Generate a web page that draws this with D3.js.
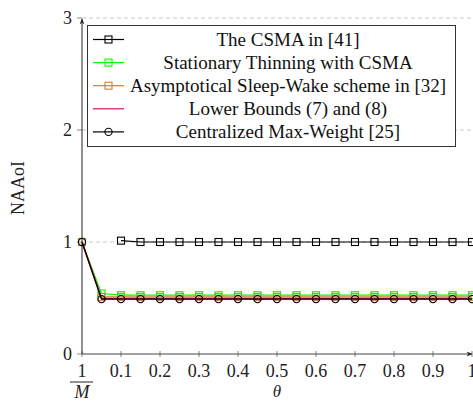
<!DOCTYPE html>
<html><head><meta charset="utf-8">
<script src="https://cdn.jsdelivr.net/npm/d3@7"></script>
<style>body{margin:0;background:#fff}svg{display:block}</style>
</head><body>
<script>
// ---- data ----
const thetaAll = [0, 0.05, 0.1, 0.15, 0.2, 0.25, 0.3, 0.35, 0.4, 0.45, 0.5, 0.55, 0.6, 0.65, 0.7, 0.75, 0.8, 0.85, 0.9, 0.95, 1.0];
const thetaCsma = [0.1, 0.15, 0.2, 0.25, 0.3, 0.35, 0.4, 0.45, 0.5, 0.55, 0.6, 0.65, 0.7, 0.75, 0.8, 0.85, 0.9, 0.95, 1.0];
const csma41 = [1.012, 1.0, 1.0, 1.0, 1.0, 1.0, 1.0, 1.0, 1.0, 1.0, 1.0, 1.0, 1.0, 1.0, 1.0, 1.0, 1.0, 1.0, 1.0];
const thinning = [1.0, 0.54, 0.525, 0.525, 0.525, 0.525, 0.525, 0.525, 0.525, 0.525, 0.525, 0.525, 0.525, 0.525, 0.525, 0.525, 0.525, 0.525, 0.525, 0.525, 0.525];
const sleepWake = [1.0, 0.51, 0.51, 0.51, 0.51, 0.51, 0.51, 0.51, 0.51, 0.51, 0.51, 0.51, 0.51, 0.51, 0.51, 0.51, 0.51, 0.51, 0.51, 0.51, 0.51];
const lowerBound = [1.0, 0.495, 0.495, 0.495, 0.495, 0.495, 0.495, 0.495, 0.495, 0.495, 0.495, 0.495, 0.495, 0.495, 0.495, 0.495, 0.495, 0.495, 0.495, 0.495, 0.495];
const maxWeight = [1.0, 0.49, 0.49, 0.49, 0.49, 0.49, 0.49, 0.49, 0.49, 0.49, 0.49, 0.49, 0.49, 0.49, 0.49, 0.49, 0.49, 0.49, 0.49, 0.49, 0.49];
const xTicks = [0.1, 0.2, 0.3, 0.4, 0.5, 0.6, 0.7, 0.8, 0.9, 1];
const xTickLabels = ["0.1", "0.2", "0.3", "0.4", "0.5", "0.6", "0.7", "0.8", "0.9", "1"];
const yTicks = [0, 1, 2, 3];
const legendLabels = ["The CSMA in [41]", "Stationary Thinning with CSMA", "Asymptotical Sleep-Wake scheme in [32]", "Lower Bounds (7) and (8)", "Centralized Max-Weight [25]"];
const colors = ["#000000", "#00ff00", "#c8803c", "#c8175a", "#000000"];
const markers = ["square", "square", "square", "none", "circle"];

const FONT = "'Liberation Serif', 'DejaVu Serif', Times, serif";
const W = 473, H = 401;
const svg = d3.select("body").append("svg").attr("width", W).attr("height", H)
  .style("font-family", FONT).attr("font-family", FONT);
const x = d3.scaleLinear().domain([0, 1]).range([82, 472]);
const y = d3.scaleLinear().domain([0, 3]).range([354, 18]);

const defs = svg.append("defs");
defs.append("marker").attr("id", "arr").attr("viewBox", "0 0 10 10").attr("refX", 9).attr("refY", 5)
  .attr("markerWidth", 6).attr("markerHeight", 6).attr("orient", "auto")
  .append("path").attr("d", "M0,1 L10,5 L0,9 L3,5 Z").attr("fill", "#222");

// grid
svg.append("g").selectAll("line").data(yTicks.filter(d => d > 0)).join("line")
  .attr("x1", x(0)).attr("x2", x(1)).attr("y1", d => y(d)).attr("y2", d => y(d))
  .attr("stroke", "#c8c8c8").attr("stroke-dasharray", "4,3").attr("stroke-width", 1);
// y ticks
svg.append("g").selectAll("line").data(yTicks).join("line")
  .attr("x1", x(0) - 5).attr("x2", x(0)).attr("y1", d => y(d)).attr("y2", d => y(d))
  .attr("stroke", "#888").attr("stroke-width", 1);
svg.append("g").selectAll("text").data(yTicks).join("text")
  .attr("x", 72).attr("y", d => y(d) + 6).attr("text-anchor", "end")
  .attr("font-size", 18).attr("fill", "#222").text(d => d);
// x ticks
svg.append("g").selectAll("line").data([0].concat(xTicks)).join("line")
  .attr("x1", d => x(d)).attr("x2", d => x(d)).attr("y1", y(0) - 3).attr("y2", y(0) + 3)
  .attr("stroke", "#888").attr("stroke-width", 1);
svg.append("g").selectAll("text").data(xTicks).join("text")
  .attr("x", d => x(d)).attr("y", 377).attr("text-anchor", "middle")
  .attr("font-size", 18).attr("fill", "#222").text((d, i) => xTickLabels[i]);
// 1/M label
svg.append("text").attr("x", x(0)).attr("y", 377).attr("text-anchor", "middle").attr("font-size", 18).attr("fill", "#222").text("1");
svg.append("line").attr("x1", x(0) - 12).attr("x2", x(0) + 11).attr("y1", 382).attr("y2", 382).attr("stroke", "#222").attr("stroke-width", 1);
svg.append("text").attr("x", x(0)).attr("y", 398).attr("text-anchor", "middle").attr("font-size", 18).attr("font-style", "italic").attr("fill", "#222").text("M");
// axis titles
svg.append("text").attr("x", x(0.5)).attr("y", 397).attr("text-anchor", "middle").attr("font-size", 17).attr("font-style", "italic").attr("fill", "#222").text("θ");
svg.append("text").attr("transform", "translate(24,188) rotate(-90)").attr("text-anchor", "middle").attr("font-size", 18).attr("fill", "#222").text("NAAoI");

// axes
svg.append("line").attr("x1", x(0)).attr("x2", x(0)).attr("y1", y(0)).attr("y2", y(3) + 1)
  .attr("stroke", "#222").attr("stroke-width", 1).attr("marker-end", "url(#arr)");
svg.append("line").attr("x1", x(0)).attr("x2", x(1)).attr("y1", y(0)).attr("y2", y(0))
  .attr("stroke", "#444").attr("stroke-width", 1).attr("marker-end", "url(#arr)");

// series
const series = [
  {xs: thetaCsma, ys: csma41},
  {xs: thetaAll, ys: thinning},
  {xs: thetaAll, ys: sleepWake},
  {xs: thetaAll, ys: lowerBound},
  {xs: thetaAll, ys: maxWeight}
];
const line = d3.line().x(d => x(d[0])).y(d => y(d[1]));
function drawMarker(g, type, cx, cy, color) {
  if (type === "square") {
    g.append("rect").attr("x", cx - 3.5).attr("y", cy - 3.5).attr("width", 7).attr("height", 7)
      .attr("fill", "none").attr("stroke", color).attr("stroke-width", 1.1);
  } else if (type === "circle") {
    g.append("circle").attr("cx", cx).attr("cy", cy).attr("r", 3.6)
      .attr("fill", "none").attr("stroke", color).attr("stroke-width", 1.1);
  }
}
series.forEach((s, i) => {
  const pts = s.xs.map((t, j) => [t, s.ys[j]]);
  const g = svg.append("g");
  g.append("path").attr("d", line(pts)).attr("fill", "none").attr("stroke", colors[i])
    .attr("stroke-width", i === 3 ? 1.6 : 1.2);
  pts.forEach(p => drawMarker(g, markers[i], x(p[0]), y(p[1]), colors[i]));
});

// legend
const lg = svg.append("g");
lg.append("rect").attr("x", 87.5).attr("y", 25.5).attr("width", 368).attr("height", 121)
  .attr("fill", "#fff").attr("stroke", "#333").attr("stroke-width", 1);
legendLabels.forEach((lab, i) => {
  const cy = 39.5 + i * 23.1;
  lg.append("line").attr("x1", 93).attr("x2", 124).attr("y1", cy).attr("y2", cy)
    .attr("stroke", colors[i]).attr("stroke-width", 1.2);
  drawMarker(lg, markers[i], 108.5, cy, colors[i]);
  lg.append("text").attr("x", 288).attr("y", cy + 6).attr("text-anchor", "middle")
    .attr("font-size", 19).attr("fill", "#111").text(lab);
});
</script>
</body></html>
